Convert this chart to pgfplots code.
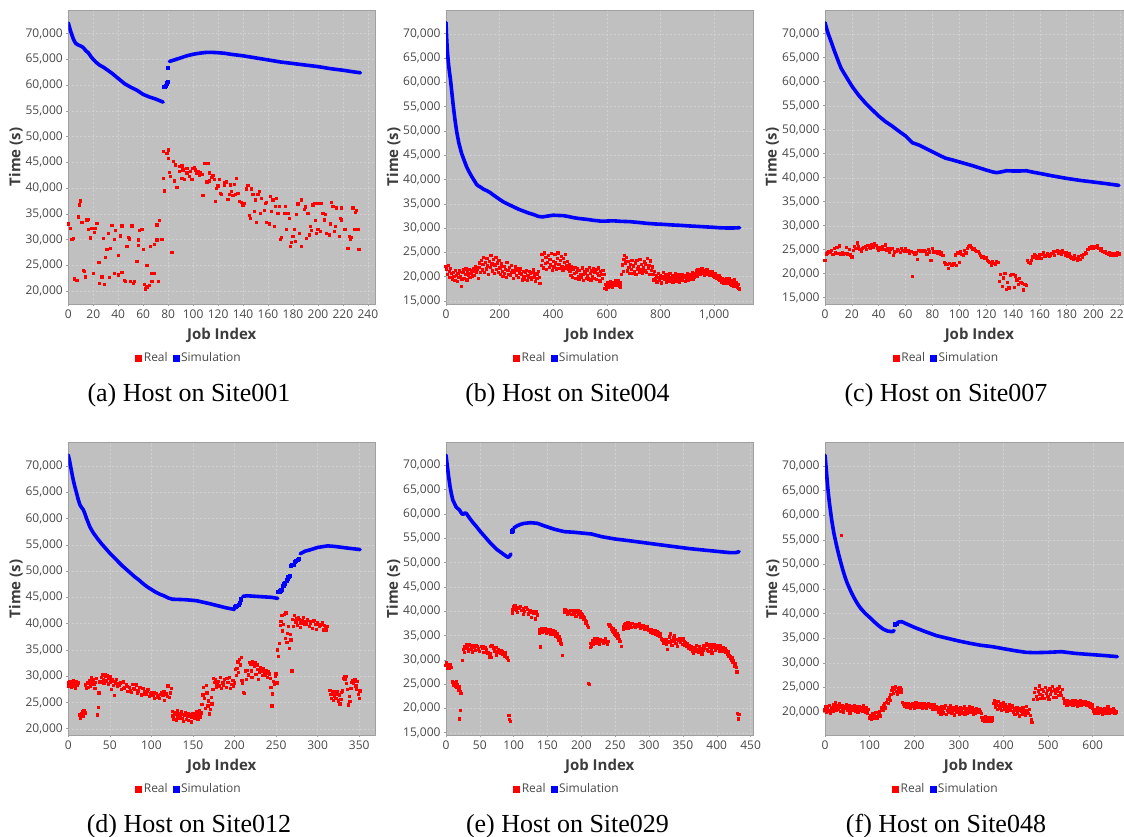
\documentclass[border=0pt]{standalone}
\usepackage{fontspec}
\setmainfont{Liberation Serif}
\newfontfamily\uifont{Open Sans}
\usepackage{pgfplots}
\pgfplotsset{compat=1.18}

\definecolor{plotbg}{RGB}{192,192,192}
\definecolor{gridc}{RGB}{208,208,208}
\definecolor{framec}{RGB}{160,160,160}
\definecolor{tickc}{RGB}{72,72,72}
\definecolor{labc}{RGB}{60,60,60}
\definecolor{realc}{RGB}{255,0,0}
\definecolor{simc}{RGB}{0,0,255}

\pgfplotsset{
  real/.style={only marks, color=realc, mark=square*, mark size=1.15bp, mark options={line width=0pt, fill=realc, draw=realc}, forget plot},
  sim/.style={no marks, color=simc, line width=3.6bp, line join=round, line cap=round, forget plot},
  simjump/.style={only marks, color=simc, mark=square*, mark size=1.6bp, mark options={line width=0pt, fill=simc, draw=simc}, forget plot},
  jobchart/.style={
    scale only axis,
    anchor=north west,
    axis background/.style={fill=plotbg},
    axis line style={draw=framec, line width=0.6bp},
    grid=major,
    major grid style={draw=gridc, dash pattern=on 2bp off 2bp, line width=0.4bp},
    tick align=outside,
    major tick length=2bp,
    tick style={draw=framec, line width=0.5bp},
    xtick pos=left, ytick pos=left,
    ticklabel style={font=\uifont\fontsize{12bp}{14bp}\selectfont, text=tickc},
    /pgf/number format/fixed,
    /pgf/number format/1000 sep={,},
    /pgf/number format/assume math mode=true,
    scaled ticks=false,
    ytick={15000,20000,...,70000},
    xmin=0,
    xlabel={Job Index},
    ylabel={Time (s)},
    label style={font=\uifont\bfseries\fontsize{15bp}{18bp}\selectfont, text=labc},
    xlabel style={at={(axis description cs:0.5,0)}, anchor=center, yshift=-31.5bp},
    ylabel style={at={(axis description cs:-0.171,0.5)}, anchor=center},
    legend columns=2,
    legend style={draw=none, fill=none, at={(axis description cs:0.394,0)}, anchor=center,
      yshift=-54bp, font=\uifont\fontsize{12bp}{14bp}\selectfont, text=tickc,
      inner sep=0pt, /tikz/every even column/.append style={column sep=3bp}},
  },
}
\newcommand{\twoentries}{%
  \addlegendimage{legend image code/.code={\fill[realc] (0bp,-3bp) rectangle (6bp,3bp);}}
  \addlegendentry{Real}
  \addlegendimage{legend image code/.code={\fill[simc] (0bp,-3bp) rectangle (6bp,3bp);}}
  \addlegendentry{Simulation}}
\tikzset{caption/.style={anchor=base, font=\fontsize{26bp}{30bp}\selectfont}}

\begin{document}
\begin{tikzpicture}
\path[use as bounding box] (0,0) rectangle (1124bp,-837bp);

% ---------------- (a) Site001 ----------------
\begin{axis}[jobchart, at={(68.3bp,-10bp)}, width=306.7bp, height=294bp,
  xmax=245.7, ymin=17470, ymax=74600, xtick={0,20,...,240}]
\addplot[real] coordinates {
(0,33000)(2,32200)(3,30000)(4,30200)(5,22300)(7,22100)(8,34400)(9,36700)(10,37500)(11,33300)(12,24000)(13,23800)(14,22700)(15,33800)(16,33900)(16,31900)(18,30300)(19,32100)(20,23400)(21,31400)(22,32200)(23,33100)(24,25500)(25,21400)(25,25600)(27,22700)(28,30200)(29,21200)(30,26500)(31,28000)(32,31200)(33,22600)(34,28300)(35,32700)(37,23400)(37,30000)(38,31700)(40,23100)(40,26900)(42,30700)(43,32600)(43,23600)(45,22100)(46,21800)(47,28700)(48,30400)(49,30100)(50,21800)(51,32600)(52,21400)(53,21800)(55,25700)(56,28800)(56,29900)(57,31700)(59,32000)(60,28000)(61,21200)(62,20400)(63,20800)(63,25000)(65,21000)(66,28700)(67,21800)(67,23400)(69,23400)(69,29100)(71,32800)(71,29900)(72,21800)(73,33700)(75,30000)
(76,41900)(77,39400)(76,47100)(79,46700)(80,47400)(80,45800)(81,43000)(82,42200)(83,27500)(84,45100)(85,41400)(86,44500)(87,40100)(89,43200)(89,44200)(91,41900)(91,44300)(92,43500)(93,41600)(95,42900)(95,43800)(97,42200)(98,43200)(99,41600)(100,43800)(101,44000)(102,43500)(103,42900)(104,43200)(105,42500)(106,42900)(107,42700)(108,38500)(109,44800)(111,41200)(112,44800)(113,42900)(113,41400)(115,42100)(116,42500)(117,41600)(118,37400)(119,39900)(120,40400)(121,41700)(122,39000)(123,38800)(125,41000)(125,40600)(127,41200)(128,37800)(129,38800)(130,40600)(131,39300)(132,38500)(133,40700)(134,38800)(135,41900)(136,39000)(137,37400)(139,37200)(140,36700)(141,37000)(143,39800)(144,40500)(145,34600)(146,34100)(147,39800)(148,38800)(149,35400)(150,37700)(151,33300)(152,38800)(153,39300)(154,35100)(155,38000)(157,35700)(158,37000)(159,37200)(159,33300)(161,33000)(162,38300)(163,35500)(164,37700)(165,32500)(166,36400)(167,38000)(168,35100)(169,36400)(170,30000)(171,30400)(173,35000)(174,36400)(175,31900)(176,35000)(177,34100)(178,28700)(179,29400)(180,30600)(181,31900)(182,29600)(183,34800)(184,36900)(185,31200)(187,37700)(187,28700)(189,35900)(190,36300)(191,30200)(192,35100)(193,30900)(194,32500)(195,31700)(196,36700)(197,37000)(198,33700)(199,31200)(200,37000)(200,31900)(202,31500)(203,37000)(204,35100)(205,33800)(206,34800)(207,31200)(209,30900)(210,33000)(211,37200)(212,36400)(213,31500)(214,32500)(215,36100)(217,30600)(218,34100)(219,33800)(219,36100)(221,32000)(222,31900)(224,28300)(225,30600)(226,30000)(227,30400)(228,36100)(229,31900)(230,35200)(231,35600)(232,31900)(233,28100)};
\addplot[sim] coordinates {(0,72100)(1,71200)(2,70400)(3,69700)(4,69000)(5,68500)(6,68100)(8,67800)(10,67600)(12,67300)(14,66700)(16,66300)(18,65600)(20,65000)(22,64500)(25,63900)(28,63500)(31,63000)(35,62300)(40,61300)(45,60300)(50,59600)(55,59000)(60,58200)(65,57700)(70,57300)(74,56900)(76,56700)};
\addplot[simjump] coordinates {(77,59600)(78,59900)(79,60300)(80,60600)(80,63300)};
\addplot[sim] coordinates {(81,64600)(85,64900)(90,65300)(95,65700)(100,66000)(105,66200)(110,66350)(115,66370)(120,66300)(125,66200)(130,66000)(140,65700)(150,65300)(160,64900)(170,64500)(180,64200)(190,63900)(200,63600)(210,63200)(220,62900)(228,62600)(234,62400)};
\twoentries
\end{axis}
\node[caption] at (189bp,-401bp) {(a) Host on Site001};

% ---------------- (b) Site004 ----------------
\begin{axis}[jobchart, at={(446bp,-10bp)}, width=307bp, height=294bp,
  xmax=1145, ymin=14380, ymax=74880, xtick={0,200,...,1000}]
\addplot[real] coordinates {
(0,22100)(3,21500)(6,20400)(9,22300)(12,21000)(15,19900)(18,21700)
(21,20600)(24,19400)(27,20900)(30,20100)(33,19200)(36,21300)(39,20300)(42,19000)(45,20700)(48,19800)(51,21200)(54,20000)(57,18000)(60,19500)(63,20800)(66,21400)(69,19700)(72,20400)(75,21600)(78,19300)(81,20900)(84,20200)(87,21500)(90,19800)(93,20600)(96,21300)(99,20100)
(102,21700)(105,20300)(108,21200)(111,22000)(114,20800)(117,21500)(120,19600)(123,21900)(126,22800)(129,20900)
(132,23400)(135,21400)(138,22500)(141,24000)(144,20800)(147,22900)(150,21600)(153,23700)(156,22200)(159,20500)(162,23100)(165,21900)(168,24400)(171,22600)(174,21200)(177,23500)(180,20700)(183,22400)(186,23900)(189,21500)(192,22800)(195,20900)(198,23300)
(201,21800)(204,20400)(207,22600)(210,21100)(213,20000)(216,22100)(219,20700)(222,21500)(225,19800)(228,22900)(231,21300)(234,20500)(237,21900)(240,20200)(243,22300)(246,20800)(249,21200)(252,19600)(255,20900)(258,22000)(261,21400)(264,20300)(267,21700)(270,19900)(273,21000)(276,20600)(279,21600)
(282,20400)(285,19300)(288,21100)(291,20000)(294,19500)(297,20800)(300,21300)(303,19200)(306,20300)(309,19800)(312,21000)(315,20600)(318,19400)(321,20900)(324,19900)(327,21400)(330,20200)(333,19000)(336,20700)(339,19600)(342,20500)(345,21100)(348,19800)(351,18600)
(355,22300)(358,24600)(361,23400)(364,21800)(367,24900)(370,22700)(373,23900)(376,21500)(379,22900)(382,24300)(385,21900)(388,23600)(391,22400)(394,24800)(397,21300)(400,23100)(403,22000)(406,24500)(409,22800)(412,21600)(415,23800)(418,24900)(421,22500)(424,21700)(427,23300)(430,24200)(433,22100)(436,21400)(439,23700)(442,22900)(445,24600)(448,21800)(451,22300)(454,23100)(457,21600)(460,22400)
(463,21200)(466,20300)(469,22000)(472,19800)(475,21500)(478,20600)(481,21900)(484,19600)(487,20800)(490,21600)(493,20100)(496,19400)(499,21300)(502,20500)(505,19900)(508,21800)(511,20400)(514,19200)(517,21100)(520,20700)(523,19700)(526,21400)(529,20200)(532,19500)(535,21900)(538,20600)(541,19300)(544,21200)(547,20000)(550,21700)(553,19600)(556,20900)(559,21500)(562,19400)(565,20600)(568,21800)(571,20200)(574,19100)(577,21000)(580,20400)(583,19700)(586,21300)(589,20500)
(592,17600)(595,18400)(598,17300)(601,18000)(604,18700)(607,17800)(610,18300)(613,19000)(616,18100)(619,18600)(622,17900)(625,18800)(628,18400)(631,19200)(634,18200)(637,18900)(640,18500)(643,19100)(646,18000)(649,18700)(652,17900)
(655,20500)(658,22400)(661,21100)(664,23600)(667,24400)(670,22800)(673,24000)(676,21200)(679,23100)(682,21900)(685,20700)(688,22500)(691,21500)(694,23300)(697,20600)(700,22200)
(703,21000)(706,22800)(709,20400)(712,23300)(715,21600)(718,22100)(721,20800)(724,23600)(727,21400)(730,22500)(733,20600)(736,21800)(739,23000)(742,21200)(745,22600)(748,20900)(751,23800)(754,21700)(757,22300)(760,20500)(763,23200)(766,21300)(769,22000)
(772,20400)(775,19300)(778,21000)(781,19700)(784,20200)(787,18900)(790,19900)(793,20700)(796,19200)(799,20300)(802,19600)(805,18700)(808,20000)(811,20800)(814,19400)(817,19900)(820,20500)(823,18900)(826,19700)(829,20200)(832,19100)(835,20600)(838,19800)(841,19300)(844,20300)(847,18800)(850,20000)(853,19500)(856,20700)(859,19100)(862,19900)(865,20400)(868,19400)(871,18900)(874,20100)(877,19700)(880,20500)(883,19200)(886,19800)(889,20300)(892,19000)(895,20200)(898,19600)(901,20600)(904,19300)(907,19900)(910,20400)(913,19500)(916,20000)(919,20800)(922,19400)(925,20300)(928,19800)
(931,20600)(934,21200)(937,20100)(940,21500)(943,20700)(946,21300)(949,20400)(952,21000)(955,21600)(958,20600)(961,21200)(964,20300)(967,21000)(970,20700)(973,21400)(976,20500)(979,20900)(982,21100)(985,20200)(988,20800)(991,20400)(994,21000)(997,20000)
(1000,20500)(1003,19900)(1006,20600)(1009,19700)(1012,20200)(1015,19500)(1018,20300)(1021,19300)(1024,19800)(1027,18900)(1030,19600)(1033,19100)(1036,18700)(1039,19400)(1042,18900)(1045,19700)(1048,18600)(1051,19200)(1054,18800)(1057,19500)(1060,18500)
(1063,19100)(1066,18300)(1069,18900)(1072,18000)(1075,19300)(1078,18500)(1081,18100)(1084,18800)(1087,17900)(1090,18400)(1093,17600)(1095,17300)};
\addplot[sim] coordinates {(0,72300)(2,69500)(4,67500)(6,65800)(9,64000)(12,62500)(17,60400)(22,57800)(27,55200)(33,52500)(40,49800)(48,47500)(58,45400)(68,43900)(77,42600)(87,41500)(96,40600)(105,39800)(114,39000)(120,38700)(127,38500)(140,38000)(152,37700)(165,37300)(177,36800)(195,36100)(214,35400)(232,34900)(251,34400)(270,33900)(289,33500)(308,33100)(326,32800)(345,32400)(360,32300)(376,32450)(400,32650)(420,32600)(438,32560)(455,32400)(475,32150)(500,31950)(525,31800)(550,31600)(575,31450)(600,31450)(624,31500)(650,31400)(687,31320)(720,31150)(749,30980)(780,30850)(811,30770)(842,30650)(873,30570)(904,30450)(935,30360)(966,30260)(998,30160)(1020,30070)(1047,30020)(1075,30030)(1095,30090)};
\twoentries
\end{axis}
\node[caption] at (567.5bp,-401bp) {(b) Host on Site004};

% ---------------- (c) Site007 ----------------
\begin{axis}[jobchart, at={(825bp,-10bp)}, width=308.7bp, height=294bp,
  xmax=230, ymin=13690, ymax=74940, xtick={0,20,...,220}]
\addplot[real] coordinates {
(0,22700)(1,24100)(2,24300)(3,24600)(4,24400)(5,24800)(6,24000)(7,25200)(8,24300)(9,25500)(10,24200)(11,25800)(12,24100)(13,24300)(14,24000)(15,24200)(16,25400)(17,24100)(18,25000)(19,23900)(20,23500)(21,24800)(22,25700)(23,25200)(24,26400)(25,25700)(26,25100)(27,24600)(28,25300)(29,25500)(30,25700)(31,25000)(32,25900)(33,25400)(34,25200)(35,26000)(36,25500)(37,26200)(38,25900)(39,25300)(40,24900)(41,25400)(42,25100)(43,25600)(44,25100)(45,26000)(46,24900)(47,25300)(48,24500)(49,25000)(50,25200)(51,23800)(52,24500)(53,24600)(54,25100)(55,24900)(56,24400)(57,25200)(58,24900)(59,24600)(60,25200)(61,24700)(62,24800)(63,24300)(64,24600)(65,19400)(66,24400)(67,24000)(68,24300)(69,22900)(70,24800)(71,24600)(72,24900)(73,24700)(74,24800)(75,24600)(76,24100)(77,25000)(78,24500)(79,22700)(80,25200)(81,24500)(82,24400)(83,24600)(84,24200)(85,24500)(86,24100)(87,24300)(88,23800)(89,22300)(90,22000)(91,21900)(92,21100)(93,22200)(94,21700)(95,21800)(96,22000)(97,23900)(98,21700)(99,24300)(100,22300)(101,24500)(102,24000)(103,23900)(104,24900)(105,24300)(106,25300)(107,25600)(108,25800)(109,25400)(110,25000)(111,25200)(112,24900)(113,24600)(114,24700)(115,24200)(116,23800)(117,23500)(118,23600)(119,23200)(120,23300)(121,22800)(122,22500)(123,22300)(124,21800)(125,22600)(126,22100)(127,21900)(128,22600)(129,22300)(130,18400)(131,19900)(132,17300)(133,19100)(134,20000)(135,16700)(136,18200)(137,17000)(138,19700)(139,19800)(140,19900)(141,17200)(142,19500)(143,18700)(144,17700)(145,19000)(146,18200)(147,17900)(148,16600)(149,17800)(150,17600)(151,22700)(152,22400)(153,22100)(154,22800)(155,23500)(156,24000)(157,23800)(158,23300)(159,23600)(160,23900)(161,23200)(162,24000)(163,24300)(164,23600)(165,23800)(166,24100)(167,23600)(168,23900)(169,24200)(170,24500)(171,23800)(172,24700)(173,24900)(174,24300)(175,24600)(176,24100)(177,24800)(178,24400)(179,23900)(180,24300)(181,23700)(182,24100)(183,23500)(184,23300)(185,22900)(186,23800)(187,23200)(188,22800)(189,23600)(190,23000)(191,23800)(192,23500)(193,24000)(194,24400)(195,24200)(196,25100)(197,25500)(198,25300)(199,25600)(200,25200)(201,25700)(202,25400)(203,25800)(204,25300)(205,24900)(206,25200)(207,24700)(208,24400)(209,24600)(210,24200)(211,24000)(212,24300)(213,23900)(214,24100)(215,23800)(216,24200)(217,23900)(218,24300)(219,24100)};
\addplot[sim] coordinates {(0,72300)(2,70300)(5,68000)(7,66400)(10,64200)(12,62800)(15,61400)(20,59100)(25,57200)(30,55600)(35,54200)(40,52850)(45,51700)(50,50760)(55,49700)(60,48700)(65,47300)(70,46800)(75,46100)(80,45400)(85,44700)(90,44050)(95,43700)(100,43300)(105,42900)(110,42500)(115,42050)(120,41600)(125,41200)(128,41050)(132,41250)(135,41450)(140,41400)(145,41400)(150,41450)(155,41150)(160,40900)(170,40350)(180,39860)(190,39440)(200,39100)(210,38750)(219,38400)};
\twoentries
\end{axis}
\node[caption] at (946bp,-401bp) {(c) Host on Site007};

% ---------------- (d) Site012 ----------------
\begin{axis}[jobchart, at={(68.3bp,-442.7bp)}, width=306.7bp, height=292.3bp,
  xmax=369, ymin=18800, ymax=74435, xtick={0,50,...,350}]
\addplot[real] coordinates {
(0,28700)(1,28100)(2,29000)(3,28400)(4,27800)(5,28600)(6,29200)(7,28000)(8,28500)(9,27700)(10,28900)(11,28300)(12,28700)
(14,22600)(15,22000)(16,22900)(17,23300)(18,22400)(19,23500)(20,23000)
(21,28300)(22,27600)(23,28800)(24,27900)(25,28600)(26,29200)(27,28100)(28,29700)(29,28900)(30,29400)(31,28500)(32,27700)(33,28800)(34,29600)(35,22600)(36,24100)(37,26800)(38,28900)
(40,29800)(41,30200)(42,29400)(43,28700)(44,30300)(45,29900)(46,29100)(47,30100)(48,28500)(49,29600)(50,29900)(51,28900)(52,27400)(53,29300)(54,28200)(55,29000)(56,26300)(57,28700)(58,29400)(59,28100)(60,28600)
(62,28200)(64,27400)(66,28900)(68,27800)(70,28300)(72,27100)(74,27900)(76,26900)(78,28400)(80,27500)(82,28300)(84,27200)(86,27800)(88,26400)(90,27600)(92,27100)(94,26500)(96,27400)(98,26100)(100,26900)(102,26400)(104,25800)(106,26700)(108,26200)(110,25700)(112,26800)(114,26300)(116,25400)(118,26600)(120,28100)(122,25900)(124,27600)(63,28700)(67,27600)(71,28000)(75,27300)(79,27700)(83,26800)(87,27900)(91,26500)(95,27200)(99,26700)(103,26900)(107,25900)(111,26500)(115,27000)(119,26100)(123,26800)
(125,23300)(126,22400)(127,21700)(128,23100)(129,22800)(130,21500)(131,23500)(132,22200)(133,22900)(134,21900)(135,22600)(136,23300)(137,22000)(138,22700)(139,21400)(140,22500)(141,23100)(142,21800)(143,22300)(144,22900)(145,21600)(146,22400)(147,22700)(148,21300)(149,22100)(150,22800)(151,22300)(152,21900)(153,22600)(154,23200)(155,22400)(156,21700)(157,22900)(158,23400)(159,22200)(160,23000)
(161,24600)(162,26400)(163,27900)(164,25700)(165,23900)(166,28200)(167,26800)(168,24300)(169,25300)(170,22800)(171,23600)(172,26000)(173,24700)(174,27400)(175,29600)(176,28800)(177,29300)(178,27800)(179,28500)(180,29000)
(182,28100)(184,27600)(186,28700)(188,29400)(190,27900)(192,28800)(194,29800)(196,28400)(198,29200)(200,28700)(183,29700)(187,28300)(191,29500)(195,27700)(199,28000)
(201,31300)(202,30100)(203,31500)(204,32700)(205,30700)(206,33200)(207,32100)(208,33600)(209,29200)(210,28600)(211,26900)(212,26700)(213,31000)(214,29400)
(216,31100)(217,30200)(218,32600)(219,32300)(220,31000)(221,29800)(222,32700)(223,32200)(224,31800)(225,32500)(226,30300)(227,32100)(228,31300)(229,29400)(230,30800)(231,31700)(232,31300)(233,30900)(234,30100)(235,31500)(236,30700)(237,30200)(238,31000)(239,30600)(240,29700)(241,30900)(242,30400)(243,29500)
(244,27900)(245,24300)(246,26600)(247,29000)(248,28400)(249,30000)(250,30400)(251,28700)
(252,35000)(253,33700)(254,36200)(255,39600)(256,40400)(257,41600)(258,38600)(259,39900)(260,41800)(261,37200)(262,42000)
(263,36400)(264,38100)(265,39500)(266,35300)(267,37900)(268,36900)(269,31000)(270,40800)(271,39500)(272,41600)
(274,40200)(276,39600)(278,40800)(280,40100)(282,40500)(284,39800)(286,40300)(288,40700)(290,39500)(292,40400)(294,39100)(296,40600)(298,39900)(300,40200)(302,39400)(304,39800)(306,40100)(308,39600)(310,39200)(312,39400)(275,40900)(279,39300)(283,41200)(287,39900)(291,40000)(295,40500)(299,38900)(303,39700)(307,38800)(311,38700)(273,40500)(277,41100)
(315,27300)(316,26500)(317,25700)(318,27000)(319,25400)(320,26200)(321,27000)(322,25800)(323,26600)(324,27000)(325,25300)(326,26400)(327,24700)(328,25600)(329,26900)(330,27200)(331,29600)(332,29900)(333,29300)(334,30000)(335,28600)(336,27500)(337,24500)(338,26100)(339,25200)(340,27600)(341,28800)(342,29200)(343,28700)(344,29100)(345,29300)(346,28100)(347,27500)(348,29000)(349,26500)(350,25700)(351,27200)};
\addplot[sim] coordinates {(0,72100)(2,70600)(4,68900)(6,67300)(8,66000)(10,64800)(12,63600)(14,62600)(16,62100)(18,61700)(20,60900)(22,60000)(24,59200)(26,58400)(30,57300)(35,56200)(40,55200)(45,54300)(50,53400)(55,52600)(60,51800)(65,51000)(70,50300)(75,49600)(80,48900)(85,48300)(90,47600)(95,47000)(100,46500)(105,46000)(110,45600)(115,45300)(120,44900)(125,44650)(130,44620)(140,44560)(150,44430)(155,44340)(160,44150)(170,43800)(180,43400)(190,43000)(200,42700)};
\addplot[simjump] coordinates {(201,43200)(202,43250)(203,43300)(205,43500)(207,44000)(208,44600)(252,46000)(253,46000)(255,46100)(256,46300)(257,46400)(259,47200)(260,47500)(261,47800)(263,48200)(264,48500)(265,48900)(267,49000)(268,51000)(269,51100)(271,51200)(273,51800)(274,51900)(276,52100)(278,52300)};
\addplot[sim] coordinates {(210,45200)(215,45300)(230,45150)(245,45000)(252,44800)};
\addplot[sim] coordinates {(279,53300)(285,53800)(290,54000)(300,54500)(312,54800)(320,54700)(330,54500)(340,54300)(351,54100)};
\twoentries
\end{axis}
\node[caption] at (189bp,-832.7bp) {(d) Host on Site012};

% ---------------- (e) Site029 ----------------
\begin{axis}[jobchart, at={(446bp,-442.7bp)}, width=307.3bp, height=292.3bp,
  xmax=454, ymin=14527, ymax=74650, xtick={0,50,...,450}]
\addplot[real] coordinates {
(0,28800)(1,29500)(2,28300)(3,29100)(4,28600)(5,28200)(6,29000)(7,28500)(8,28400)
(10,25400)(11,24800)(12,25300)(13,25100)(14,24600)(15,25500)(16,24300)(17,24900)(18,24100)(19,23700)(20,24400)(21,23400)(22,23000)(20,17800)(21,19500)
(24,29900)(26,32100)(27,31500)(28,32800)(29,32300)(30,33100)(32,32600)(33,31800)(34,33200)(36,32900)(38,32400)(39,31600)(40,33000)(42,32500)(44,31900)(46,32700)(48,32200)(50,31700)(52,32800)(54,32300)(56,31500)(58,32400)(60,32000)(62,31400)(64,30600)(65,31200)(66,32700)(68,32900)(70,32300)(72,31800)(74,32500)(76,31600)(78,32000)(80,31300)(82,31900)(84,31200)(86,30700)(88,31100)(90,30500)(91,30200)(92,29900)(35,32100)(45,32900)(55,32700)(67,30400)(75,31000)(83,31600)(87,31400)
(93,18600)(94,17700)(95,17300)
(98,39600)(99,40400)(100,41000)(101,40600)(102,41200)(104,40100)(105,40800)(106,39700)(108,40500)(110,41000)(112,40200)(114,39300)(115,40600)(116,39900)(118,40700)(120,40300)(122,39400)(124,40100)(125,39800)(126,38700)(128,40000)(130,39500)(132,38400)(133,39800)(134,39600)(135,39200)
(138,35500)(139,36100)(140,32600)(141,35900)(142,36400)(143,35700)(144,36200)(146,35800)(147,36500)(148,35400)(150,36100)(152,35600)(154,36300)(155,35200)(156,35900)(158,36000)(160,35300)(161,35700)(162,34900)(164,35400)(165,34700)(166,34300)(167,33900)(168,34800)(169,34100)(170,33400)(171,33100)(172,30900)
(175,39800)(176,40300)(177,39700)(178,40100)(180,39400)(181,40000)(182,39500)(184,40100)(186,39300)(188,39900)(189,40200)(190,39600)(192,38900)(194,39700)(195,40100)(196,39400)(198,39800)(199,38800)(200,39500)(202,39200)(203,38900)(204,38300)(205,38700)(206,38000)(207,37500)(208,37900)(209,37000)(210,36600)
(211,25100)(212,24900)
(213,32500)(214,33400)(215,32800)(216,33900)(218,33200)(219,34300)(220,33600)(222,34100)(223,33300)(224,34400)(226,33800)(227,33100)(228,34200)(230,33700)(232,34000)(233,33400)(234,33900)(236,34300)(238,33600)(239,33100)(240,33800)
(241,37200)(242,36800)(243,37100)(244,36300)(245,36700)(246,35900)(247,36400)(248,35700)(249,35300)(250,35900)(251,35000)(252,34800)(253,35400)(254,34500)(255,34900)(256,34200)(257,33800)(259,32700)
(262,36200)(263,36900)(264,37300)(265,36400)(266,37500)(268,36800)(269,37600)(270,36500)(272,37400)(273,37000)(274,36600)(276,37500)(278,36900)(279,37300)(280,36600)(282,37200)(284,36800)(286,37400)(287,36500)(288,37000)(290,36700)(292,37100)(294,36300)(295,36800)(296,36400)(298,36900)(300,36100)
(302,35700)(304,36300)(305,35500)(306,36000)(308,35400)(309,35900)(310,35200)(312,35800)(313,35100)(314,35600)(316,34900)(317,35400)(318,34300)(320,33900)
(321,33300)(322,34200)(324,33500)(325,34100)(326,33200)(327,32100)(328,33800)(330,34700)(331,33600)(332,35300)(333,34000)(334,32900)(336,34500)(337,33700)(338,34900)(340,33400)(341,34200)(342,32700)(344,33900)(345,34400)
(346,33600)(348,34100)(349,33200)(350,34300)(352,33700)(353,32900)(354,33500)(356,32700)(357,33300)(358,32400)(360,33000)(361,32100)(362,32800)(364,31800)(365,32500)(366,31400)(368,32300)(369,31700)(370,32900)(372,32100)(373,31500)(374,32600)(376,31900)(377,32300)(378,31200)(380,32000)
(381,33000)(382,32400)(384,32900)(385,33300)(386,32000)(388,31700)(389,32500)(390,33100)(392,32200)(393,31400)(394,32800)(396,33200)(397,32500)(398,31900)(400,32700)(401,33000)(402,32300)(404,32600)(405,31800)(406,32900)(408,32100)(409,32500)(410,31700)(412,32300)(413,31500)(414,31900)(416,31100)(417,31600)(418,30800)(420,30600)
(421,30200)(422,29800)(423,30400)(424,29500)(425,29900)(426,29200)(427,28700)(428,29300)(429,28400)(430,27500)
(431,19000)(432,17800)(433,18800)};
\addplot[sim] coordinates {(0,72100)(2,69800)(4,67600)(6,65600)(8,64100)(10,62900)(15,61400)(20,60800)(23,60100)(25,59900)(28,60200)(30,60100)(35,59100)(40,58200)(45,57400)(50,56500)(55,55700)(60,54900)(65,54100)(70,53400)(75,52700)(80,52200)(85,51700)(90,51200)(92,51070)(94,51350)(96,51760)};
\addplot[simjump] coordinates {(97,56300)(98,56500)(99,56600)};
\addplot[sim] coordinates {(100,57100)(105,57550)(110,57850)(115,58050)(125,58200)(135,58070)(145,57550)(160,56850)(175,56350)(190,56220)(205,56010)(215,55870)(230,55320)(250,54840)(270,54500)(300,53950)(330,53400)(360,52860)(390,52440)(420,52030)(428,52030)(433,52240)};
\twoentries
\end{axis}
\node[caption] at (567.5bp,-832.7bp) {(e) Host on Site029};

% ---------------- (f) Site048 ----------------
\begin{axis}[jobchart, at={(825bp,-442.7bp)}, width=307bp, height=292.3bp,
  xmax=688, ymin=15325, ymax=74736, xtick={0,100,...,600}]
\addplot[real] coordinates {
(37,55900)
(0,20400)(2,21000)(4,19900)(6,20700)(8,20200)(10,21300)(12,19800)(14,20600)(16,20900)(18,20100)(20,21500)(22,20800)(24,21900)(26,20400)(28,21200)(30,20600)(32,21600)(34,20100)(36,20900)(38,21300)(40,20500)(42,19900)(44,21100)(46,20700)(48,21400)(50,20300)(52,20800)(54,21200)(56,19800)(58,20600)(60,21000)(62,20400)(64,20900)(66,21300)(68,20200)(70,20700)(72,21100)(74,19900)(76,20500)(78,21000)(80,20300)(82,20800)(84,20100)(86,21200)(88,20600)(90,20000)(92,20900)(94,20400)(96,19700)(98,20500)
(100,18800)(102,19300)(104,18600)(106,19600)(108,18900)(110,19500)(112,18700)(114,19900)(116,19100)(118,18800)(120,19400)(122,20000)(124,19200)
(126,20500)(128,20900)(130,20300)(132,21200)(134,21600)(136,20800)(138,22000)(140,22500)(142,21800)(144,23000)(146,22300)(148,23600)(150,24400)
(152,24900)(154,23800)(156,24600)(158,25100)(160,24200)(162,23500)(164,24800)(166,24300)(168,25000)(170,23900)(172,24500)
(174,22000)(176,21500)(178,21100)(180,21700)(182,20900)(184,21400)(186,21800)(188,21000)(190,21500)(192,20800)(194,21300)(196,21700)(198,21100)(200,20700)(202,21400)(204,21900)(206,21200)(208,20900)(210,21600)(212,21000)(214,21400)(216,21800)(218,20800)(220,21300)(222,21600)(224,21000)(226,21500)(228,20700)(230,21200)(232,21800)(234,21100)(236,20900)(238,21500)(240,21200)(242,20600)(244,21400)(246,21000)(248,20500)(250,21100)
(252,20600)(254,19900)(256,20900)(258,20200)(260,19600)(262,21000)(264,20400)(266,19800)(268,20700)(270,21300)(272,19500)(274,20300)(276,20900)(278,19900)(280,20500)(282,21200)(284,19700)(286,20100)(288,20800)(290,19400)(292,20400)(294,21000)(296,19900)(298,20600)(300,20100)(302,19600)(304,20900)(306,20300)(308,19800)(310,20700)(312,21100)(314,19500)(316,20200)(318,20600)(320,19700)(322,20400)(324,21000)(326,19900)(328,20300)(330,20800)(332,19600)(334,20100)(336,20500)(338,19800)(340,20700)(342,20200)(344,19900)(346,20500)(348,20000)(350,19700)
(352,18900)(354,18300)(356,18700)(358,18100)(360,19100)(362,18400)(364,18000)(366,18800)(368,18300)(370,18600)(372,18100)(374,18900)(376,18400)
(378,21800)(380,22300)(382,21000)(384,21600)(386,20500)(388,22100)(390,21300)(392,20800)(394,21700)(396,20300)(398,21200)(400,21900)(402,20600)(404,21400)(406,20900)(408,20200)(410,21100)(412,20700)(414,21500)(416,20400)(418,20900)(420,21300)
(422,20000)(424,20600)(426,19500)(428,20300)(430,20900)(432,19800)(434,20400)(436,19200)(438,20700)(440,20100)(442,19600)(444,20800)(446,19900)(448,20300)(450,19400)(452,21100)(454,20200)(456,19700)(458,20500)(460,19300)
(462,18400)(464,17800)
(468,22600)(470,23900)(472,24800)(474,23100)(476,22500)(478,24300)(480,25300)(482,23600)(484,22800)(486,24600)(488,23400)(490,24100)(492,22700)(494,25000)(496,23800)(498,24400)(500,23200)(502,22600)(504,24700)(506,23500)(508,24200)(510,25200)(512,23000)(514,24500)(516,23700)(518,22900)(520,24100)(522,24800)(524,23300)(526,25100)(528,24000)(530,23400)(532,24600)(534,22800)
(536,22300)(538,21700)(540,22100)(542,21400)(544,22400)(546,21800)(548,22200)(550,21500)(552,21900)(554,22300)(556,21300)(558,22000)(560,21600)(562,22400)(564,21800)(566,21200)(568,22100)(570,21700)(572,22300)(574,21400)(576,21900)(578,22200)(580,21500)(582,21800)(584,22100)(586,21300)(588,21700)(590,21900)(592,21200)(594,21600)(596,21000)(598,21400)
(600,20700)(602,20100)(604,19800)(606,20500)(608,20000)(610,20800)(612,19700)(614,20300)(616,20600)(618,19900)(620,20400)(622,19600)(624,20200)(626,20700)(628,20000)(630,19800)(632,20400)(634,21000)(636,20100)(638,19700)(640,20500)(642,20200)(644,19900)(646,20600)(648,20300)(650,19800)(652,20100)(654,19900)};
\addplot[sim] coordinates {(0,72200)(2,70200)(4,68000)(6,65800)(8,64000)(10,62400)(15,59000)(20,56300)(25,54200)(30,52250)(35,50500)(40,48860)(45,47400)(50,46150)(55,45100)(60,44120)(65,43250)(70,42430)(75,41700)(80,41070)(90,40050)(100,39240)(110,38360)(120,37550)(130,36870)(140,36460)(150,36330)(155,36530)};
\addplot[simjump] coordinates {(157,37800)(158,37900)(160,37950)};
\addplot[sim] coordinates {(162,38100)(165,38290)(172,38360)(180,38020)(200,37210)(225,36330)(250,35510)(275,34970)(300,34430)(325,33960)(350,33550)(375,33280)(400,32870)(425,32470)(450,32130)(470,32060)(500,32130)(530,32260)(560,31920)(600,31650)(630,31450)(655,31250)};
\twoentries
\end{axis}
\node[caption] at (946bp,-832.7bp) {(f) Host on Site048};
\end{tikzpicture}
\end{document}
